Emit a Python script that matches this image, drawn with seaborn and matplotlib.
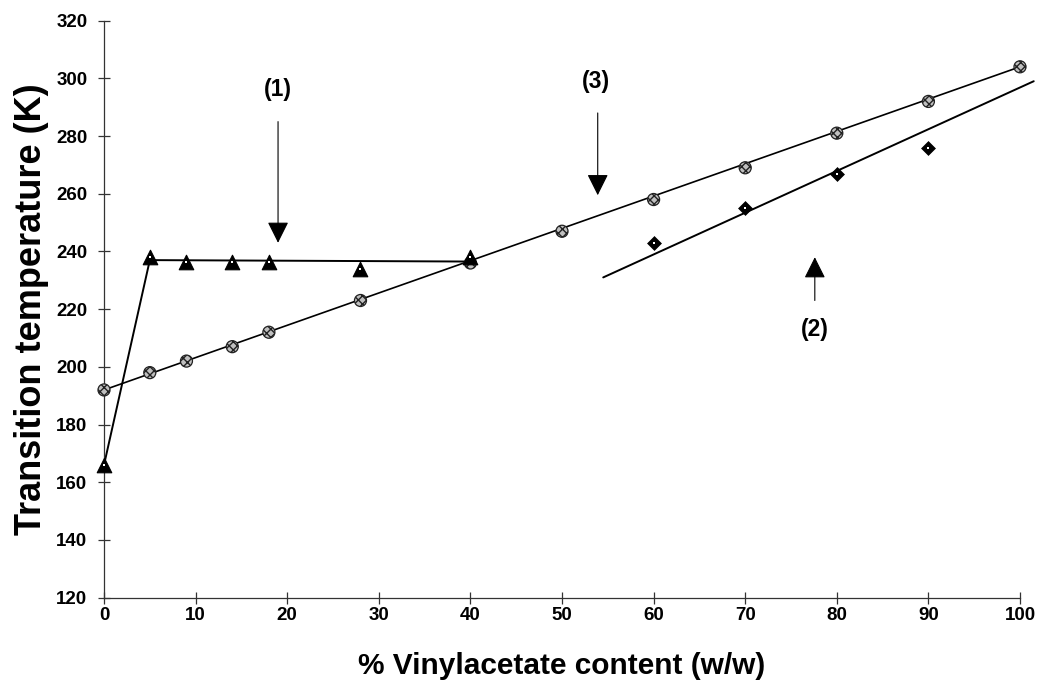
import numpy as np
import pandas as pd
import seaborn as sns
import matplotlib.pyplot as plt

# Data
va_circle = [0, 5, 9, 14, 18, 28, 40, 50, 60, 70, 80, 90, 100]
tt_circle = [192, 198, 202, 207, 212, 223, 236, 247, 258, 269, 281, 292, 304]

va_triangle = [0, 5, 9, 14, 18, 28, 40]
tt_triangle = [166, 238, 236.5, 236.5, 236.5, 234, 238]

va_diamond = [60, 70, 80, 90]
tt_diamond = [243, 255, 267, 276]

# drawn guide lines (from the figure)
fit1_x = [0, 5, 40]
fit1_y = [166, 237, 236.5]
fit2_x = [54.5, 101.5]
fit2_y = [231, 299]
fit3_x = [0, 100]
fit3_y = [192, 304]

circles = pd.DataFrame({"va": va_circle, "T": tt_circle})
triangles = pd.DataFrame({"va": va_triangle, "T": tt_triangle})
diamonds = pd.DataFrame({"va": va_diamond, "T": tt_diamond})

sns.set_theme(style="ticks")
plt.rcParams['font.family'] = ['Liberation Sans', 'DejaVu Sans']
plt.rcParams['font.weight'] = 'bold'
for key in ['text.color', 'axes.labelcolor', 'xtick.color', 'ytick.color']:
    plt.rcParams[key] = 'black'

fig = plt.figure(figsize=(10.37, 6.88), dpi=100)
ax = fig.add_axes([0.1003, 0.1313, 0.8833, 0.8387])

# guide lines
sns.lineplot(x=fit1_x, y=fit1_y, sort=False, color='black', lw=1.4, ax=ax, clip_on=False)
sns.lineplot(x=fit2_x, y=fit2_y, sort=False, color='black', lw=1.4, ax=ax, clip_on=False)
sns.lineplot(x=fit3_x, y=fit3_y, sort=False, color='black', lw=1.2, ax=ax, clip_on=False)

# markers
sns.scatterplot(data=circles, x="va", y="T", marker='o', s=75, color='#c0c0c0',
                edgecolor='#222222', linewidth=0.9, hatch='xxxx', ax=ax,
                clip_on=False, zorder=3)
sns.scatterplot(data=triangles, x="va", y="T", marker='^', s=110, color='black',
                edgecolor='black', linewidth=0.8, ax=ax, clip_on=False, zorder=4)
sns.scatterplot(data=diamonds, x="va", y="T", marker='D', s=50, color='black',
                edgecolor='black', linewidth=0.5, ax=ax, clip_on=False, zorder=3)
# little white dots inside triangles and diamonds
sns.scatterplot(data=diamonds, x="va", y="T", marker='s', s=4, color='white',
                linewidth=0, ax=ax, clip_on=False, zorder=5)
sns.scatterplot(data=triangles, x="va", y="T", marker='s', s=3, color='white',
                linewidth=0, ax=ax, clip_on=False, zorder=5)

# arrows with labels
arrow = dict(arrowstyle='-|>,head_length=1.1,head_width=0.55', color='black',
             lw=0.8, mutation_scale=12, shrinkA=0, shrinkB=0)
ax.annotate('', xy=(19, 243), xytext=(19, 285), arrowprops=arrow)
ax.text(19, 296, '(1)', ha='center', va='center', fontsize=16.5, fontweight='bold')
ax.annotate('', xy=(53.9, 259.5), xytext=(53.9, 288), arrowprops=arrow)
ax.text(53.7, 299, '(3)', ha='center', va='center', fontsize=16.5, fontweight='bold')
ax.annotate('', xy=(77.6, 238), xytext=(77.6, 223), arrowprops=arrow)
ax.text(77.6, 213, '(2)', ha='center', va='center', fontsize=16.5, fontweight='bold')

ax.set_xlim(0, 100)
ax.set_ylim(120, 320)
ax.set_xticks(np.arange(0, 101, 10))
ax.set_yticks(np.arange(120, 321, 20))
ax.tick_params(direction='inout', length=8, width=0.9, color='#333333',
               labelsize=13.5)
ax.tick_params(axis='x', pad=3)
ax.tick_params(axis='y', pad=8)
for lab in ax.get_xticklabels() + ax.get_yticklabels():
    lab.set_fontweight('bold')
sns.despine(ax=ax)
for sp in ['left', 'bottom']:
    ax.spines[sp].set_linewidth(0.9)
    ax.spines[sp].set_color('#333333')

ax.set_xlabel('% Vinylacetate content (w/w)', fontsize=21.5, fontweight='bold', labelpad=20)
ax.set_ylabel('Transition temperature (K)', fontsize=26, fontweight='bold', labelpad=5)

fig.savefig('out.png', dpi=100)
